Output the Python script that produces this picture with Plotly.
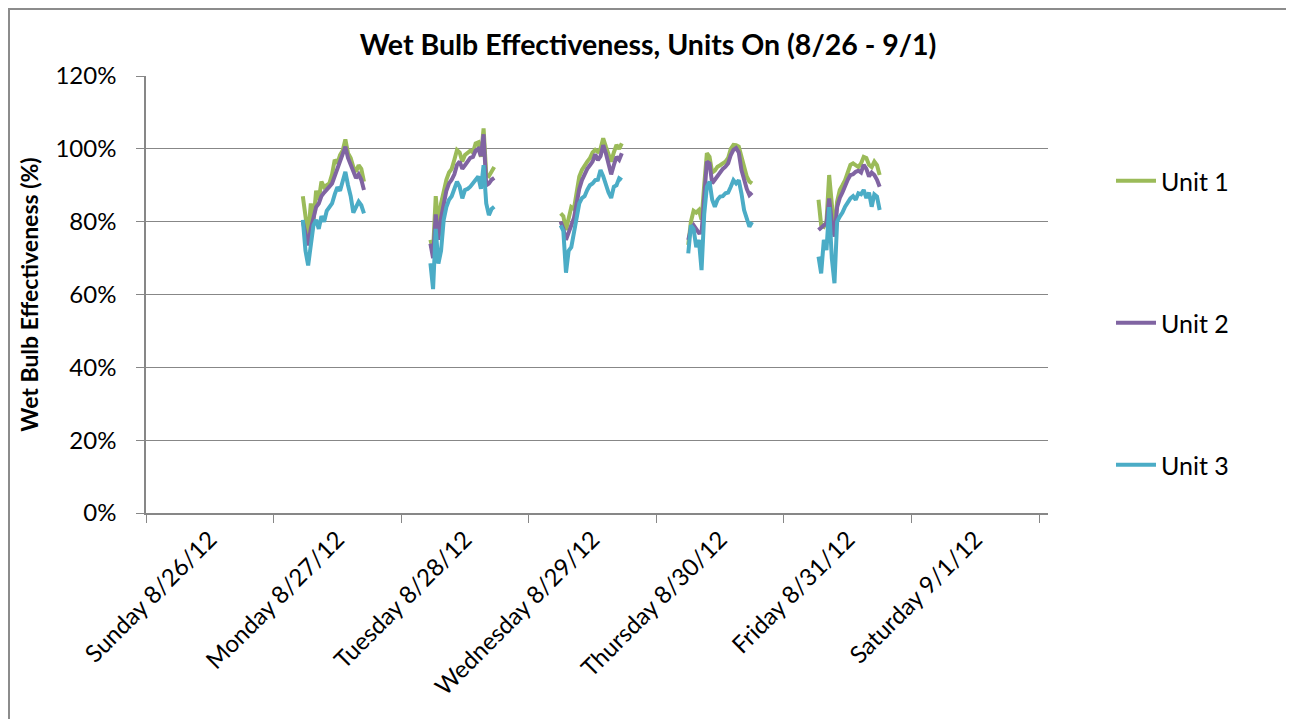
import pandas as pd
import plotly.graph_objects as go

# ---------------- data ----------------
day_dates = ["2012-08-27", "2012-08-28", "2012-08-29", "2012-08-30", "2012-08-31"]
start_hours = [5.5, 5.5, 6.0, 6.0, 6.5]   # first reading of each day (30-min readings)
step_minutes = 30

unit1 = [
    [87, 82, 76, 85, 80, 88.5, 86, 91, 89.5, 90, 90.5, 93, 97, 96, 98.3, 99.5, 102.6, 98.8, 97.5, 95, 93.7, 95.5, 94.5, 91],
    [75, 72, 87, 79, 85, 89, 91.5, 93.5, 94.5, 97, 99.7, 99, 96.5, 98.3, 98.8, 99.5, 99, 101.5, 101.8, 97.8, 105.6, 93, 92.5, 94, 95],
    [82.3, 81.5, 77.7, 80.5, 84, 83.5, 88, 92.4, 94.2, 95.5, 96.5, 97.4, 99, 99.7, 99.2, 100, 102.9, 100.6, 98.5, 96.5, 99, 101.1, 100, 101.5],
    [73.6, 80, 83, 82.5, 83.2, 80.5, 90, 98.8, 97.8, 93.5, 94, 95.1, 95.5, 96, 96.5, 97.5, 100, 101.1, 101, 100.6, 98, 94.5, 92.4, 91, 90.5],
    [86, 79, 78.6, 80, 92.8, 84, 77, 85.5, 88.7, 90, 91.4, 93.5, 95.6, 96, 95.5, 95, 96, 97.8, 97.5, 95.6, 95, 96.5, 95.5, 92.8],
]
unit2 = [
    [80, 77, 73.5, 78, 81, 84, 85, 87, 88, 88.7, 89.6, 90.5, 92.5, 95, 96.9, 98.5, 100.6, 97.5, 95.5, 93.5, 92, 93, 91.5, 88.7],
    [74, 70, 82, 75, 81, 85.5, 88.5, 90.5, 91.5, 93, 95.6, 96.5, 94.5, 95.5, 96.5, 97.5, 97.8, 99.5, 100, 98, 104, 90, 90.5, 91.5, 92],
    [80, 78, 75, 76.8, 78.6, 81, 85, 89, 91.4, 93, 94.5, 95.5, 96.5, 98.5, 96.9, 98, 101, 98.8, 96, 93, 95.5, 97.8, 97, 98.8],
    [75, 78, 79, 78, 76.9, 77, 88, 96.5, 96, 90.5, 91.5, 92.5, 93.7, 94.5, 95.1, 96, 98.3, 99.7, 100.2, 99, 94.2, 91.4, 89, 87.3, 88],
    [77.7, 78.5, 79, 79.5, 86.4, 80, 75.9, 84, 86.5, 88, 90, 91.5, 92.8, 93, 93.7, 94, 93.5, 95.6, 94.5, 92.4, 93.5, 92.8, 91.5, 89.6],
]
unit3 = [
    [80.5, 72, 68, 73, 79, 80.5, 78, 81.5, 80, 83, 84, 85, 87.5, 89.5, 88.5, 91, 93.7, 90, 87, 82.5, 84, 85.5, 84.5, 82.3],
    [68.6, 61.5, 78, 68.5, 72, 80.5, 84, 86, 87, 89, 91, 89.6, 86.4, 88.7, 89, 89.6, 90.5, 91.5, 92.4, 89, 95.5, 85, 81.8, 83.5, 84.1],
    [79, 77.5, 66, 72, 73, 77.5, 80.5, 85, 86.5, 87, 88.7, 90, 90.5, 91.4, 91.5, 94.2, 92.5, 90, 88, 86.5, 89.6, 90, 91.9, 91.4],
    [71.3, 79, 78, 73, 75, 66.7, 82, 89.6, 91, 86, 84.1, 86, 86.9, 87, 87.8, 88, 89.6, 91.4, 90.5, 91.4, 87.8, 83.2, 80.9, 78.6, 79.9],
    [70.4, 65.8, 75, 72.2, 84, 70, 63.1, 80, 81.4, 82.5, 84.1, 85.5, 86.4, 87, 86, 87.8, 87.5, 88.7, 86.5, 88, 84.1, 87.5, 86.9, 83.2],
]

series_names = ["Unit 1", "Unit 2", "Unit 3"]
series_colors = ["#9BBB59", "#8064A2", "#4BACC6"]
title_text = "Wet Bulb Effectiveness, Units On (8/26 - 9/1)"
y_title = "Wet Bulb Effectiveness (%)"
x_start, x_end = "2012-08-26 00:00", "2012-09-02 01:40"


def build(series):
    xs, ys = [], []
    for d, h0, vals in zip(day_dates, start_hours, series):
        base = pd.Timestamp(d) + pd.Timedelta(hours=h0)
        for i, v in enumerate(vals):
            xs.append(base + pd.Timedelta(minutes=step_minutes * i))
            ys.append(v / 100.0)
        xs.append(None)
        ys.append(None)
    return xs, ys


# ---------------- layout geometry (page pixels; page body has an 8px margin) ----------------
OFF = 8
W, H = 1294 - OFF, 719 - OFF
L, R, T, B = 146 - OFF, 1048 - OFF, 76 - OFF, 513 - OFF   # plot-area box in figure pixels


def px(x):  # page x -> paper x
    return (x - OFF - L) / (R - L)


def py(y):  # page y -> paper y
    return (B - (y - OFF)) / (B - T)


FONT = "Lato, 'Open Sans', sans-serif"
GRID = "#878787"

fig = go.Figure()
legend_ids = ["legend", "legend2", "legend3"]
for name, color, series, lid in zip(series_names, series_colors, [unit1, unit2, unit3], legend_ids):
    xs, ys = build(series)
    fig.add_trace(go.Scatter(
        x=xs, y=ys, mode="lines", name=name,
        line=dict(color=color, width=4),
        connectgaps=False, legend=lid,
    ))

legend_common = dict(
    xanchor="left", yanchor="middle", bgcolor="rgba(0,0,0,0)",
    font=dict(family=FONT, size=25, color="#000000"),
    itemwidth=40,
)
fig.update_layout(
    width=W, height=H,
    margin=dict(l=L, r=W - R, t=T, b=H - B, pad=0, autoexpand=False),
    paper_bgcolor="white", plot_bgcolor="white",
    title=dict(
        text=title_text, x=(648 - OFF) / W, xanchor="center",
        y=1 - (45 - OFF) / H, yanchor="middle",
        font=dict(family=FONT, size=28.5, color="#000000", weight="bold"),
    ),
    legend=dict(x=px(1111), y=py(181), **legend_common),
    legend2=dict(x=px(1111), y=py(323), **legend_common),
    legend3=dict(x=px(1111), y=py(465), **legend_common),
    xaxis=dict(
        type="date", range=[x_start, x_end],
        dtick=86400000, tick0="2012-08-26",
        ticklabelmode="period", tickformat="%A %-m/%-d/%y",
        tickangle=-45,
        ticks="outside", ticklen=8, tickcolor=GRID, tickwidth=1,
        showline=True, linecolor=GRID, linewidth=1.5,
        showgrid=False, zeroline=False,
        ticklabelstandoff=-7,
        tickfont=dict(family=FONT, size=24, color="#000000"),
    ),
    yaxis=dict(
        range=[0, 1.2], dtick=0.2, tick0=0, tickformat=".0%",
        ticks="outside", ticklen=8, tickcolor=GRID, tickwidth=1,
        showline=True, linecolor=GRID, linewidth=1.5,
        showgrid=True, gridcolor=GRID, gridwidth=1,
        zeroline=False, ticklabelstandoff=15,
        tickfont=dict(family=FONT, size=24, color="#000000"),
        title=dict(text=y_title, standoff=10,
                   font=dict(family=FONT, size=23, color="#000000", weight="bold")),
    ),
    showlegend=True,
)

# chart-area frame (left and top edges visible)
fig.add_shape(type="rect", xref="paper", yref="paper",
              x0=px(9), x1=px(1330), y0=py(760), y1=py(9),
              line=dict(color="#8C8C8C", width=2), fillcolor="rgba(0,0,0,0)", layer="below")

fig.write_html("out.html")
